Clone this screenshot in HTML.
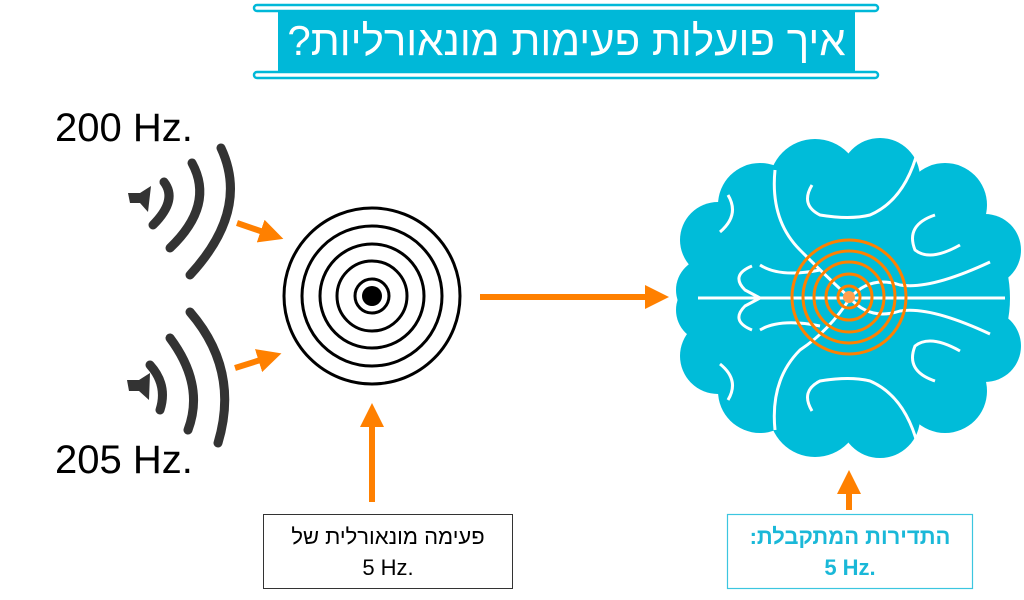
<!DOCTYPE html>
<html><head><meta charset="utf-8"><style>
body{margin:0;width:1024px;height:600px;background:#fff;overflow:hidden;position:relative;font-family:"Liberation Sans","Noto Sans CJK SC",sans-serif}
.t{position:absolute;white-space:nowrap}
</style></head><body>
<svg width="1024" height="600" style="position:absolute;left:0;top:0">
<defs><marker id="a" markerWidth="4" markerHeight="4" refX="2" refY="2" orient="auto" markerUnits="strokeWidth"><path d="M0,0L4,2L0,4z" fill="#ff8000"/></marker></defs>
<rect x="278" y="10" width="577" height="62" fill="#00b8d8"/>
<rect x="254" y="5" width="624" height="6" rx="3" fill="#fff" stroke="#00b8d8" stroke-width="2.5"/>
<rect x="254" y="72" width="624" height="6" rx="3" fill="#fff" stroke="#00b8d8" stroke-width="2.5"/>
<g fill="none" stroke="#333" stroke-width="9" stroke-linecap="round">
<path d="M164,182 Q178,200 153,225"/><path d="M192,163 Q215,205 170,248"/><path d="M221,148 Q250,210 190,275"/>
<path d="M150,365 Q168,385 160,410"/><path d="M170,338 Q205,385 188,430"/><path d="M190,312 Q240,370 218,443"/>
</g>
<path d="M128,193 L140,193 L151,186 L148,212 L140,203 L130,203z" fill="#333"/>
<path d="M127,380 L139,380 L150,373 L149,400 L139,391 L129,391z" fill="#333"/>
<g stroke="#ff8000" stroke-width="6" marker-end="url(#a)">
<line x1="237" y1="223" x2="272" y2="235"/>
<line x1="235" y1="368" x2="270" y2="357"/>
<line x1="372" y1="502" x2="372" y2="415"/>
<line x1="480" y1="297" x2="657" y2="297"/>
<line x1="849" y1="510" x2="849" y2="482"/>
</g>
<g fill="none" stroke="#000" stroke-width="3">
<circle cx="372" cy="296" r="88"/><circle cx="372" cy="296" r="70"/><circle cx="372" cy="296" r="52"/><circle cx="372" cy="296" r="35"/><circle cx="372" cy="296" r="17"/>
</g>
<circle cx="372" cy="296" r="10" fill="#000"/>
<g fill="#00bcd9">
<ellipse cx="850" cy="298" rx="160" ry="140"/>
<circle cx="718" cy="240" r="38"/><circle cx="718" cy="356" r="38"/>
<circle cx="708" cy="290" r="32"/><circle cx="708" cy="310" r="32"/>
<circle cx="760" cy="205" r="42"/><circle cx="760" cy="391" r="42"/>
<circle cx="815" cy="185" r="46"/><circle cx="815" cy="411" r="46"/>
<circle cx="880" cy="178" r="40"/><circle cx="880" cy="418" r="40"/>
<circle cx="945" cy="205" r="42"/><circle cx="945" cy="391" r="42"/>
<circle cx="985" cy="250" r="36"/><circle cx="985" cy="346" r="36"/>
</g>
<g fill="none" stroke="#fff" stroke-width="3">
<line x1="698" y1="298" x2="1005" y2="298"/>
<path d="M918,150 Q905,200 870,215 Q850,220 820,215 Q800,205 812,185"/>
<path d="M918,446 Q905,396 870,381 Q850,376 820,381 Q800,391 812,411"/>
<path d="M775,170 Q770,220 800,250 Q830,280 850,298 Q830,330 800,350 Q770,380 775,430"/>
<path d="M935,215 Q905,225 915,250 Q930,262 960,245"/>
<path d="M935,381 Q905,371 915,346 Q930,334 960,351"/>
<path d="M760,265 Q780,278 820,270 M760,330 Q780,318 820,326"/>
<path d="M752,266 Q730,275 745,290 L760,298 L745,306 Q730,321 752,330"/>
<path d="M850,298 Q870,275 900,285 Q930,290 990,262 M850,298 Q870,321 900,311 Q930,306 990,334"/>
<path d="M728,195 Q740,215 720,232 M728,400 Q740,380 720,364"/>
</g>
<g fill="none" stroke="#ff8000" stroke-width="3">
<circle cx="849" cy="297" r="57"/><circle cx="849" cy="297" r="46"/><circle cx="849" cy="297" r="35"/><circle cx="849" cy="297" r="23"/><circle cx="849" cy="297" r="11"/>
</g>
<circle cx="849" cy="297" r="6" fill="#ffa050"/>
<rect x="263.5" y="514.5" width="249" height="74" fill="#fff" stroke="#333" stroke-width="1"/>
<rect x="727.5" y="514.5" width="245" height="74" fill="#fff" stroke="#3cc6e0" stroke-width="1.2"/>
</svg>
<div class="t" style="left:278px;top:12px;width:577px;text-align:center;color:#fff;font-size:42px;line-height:58px;direction:rtl">איך פועלות פעימות מונאורליות?</div>
<div class="t" style="left:55px;top:106px;font-size:40px">200 Hz.</div>
<div class="t" style="left:55px;top:438px;font-size:40px">205 Hz.</div>
<div class="t" style="left:263px;top:521px;width:250px;text-align:center;font-size:22px;line-height:31px;direction:rtl">פעימה מונאורלית של<br><span dir="ltr">5 Hz.</span></div>
<div class="t" style="left:727px;top:521px;width:246px;text-align:center;font-size:22px;line-height:31px;font-weight:bold;color:#1ab8d8;direction:rtl">התדירות המתקבלת:<br><span dir="ltr">5 Hz.</span></div>
</body></html>
